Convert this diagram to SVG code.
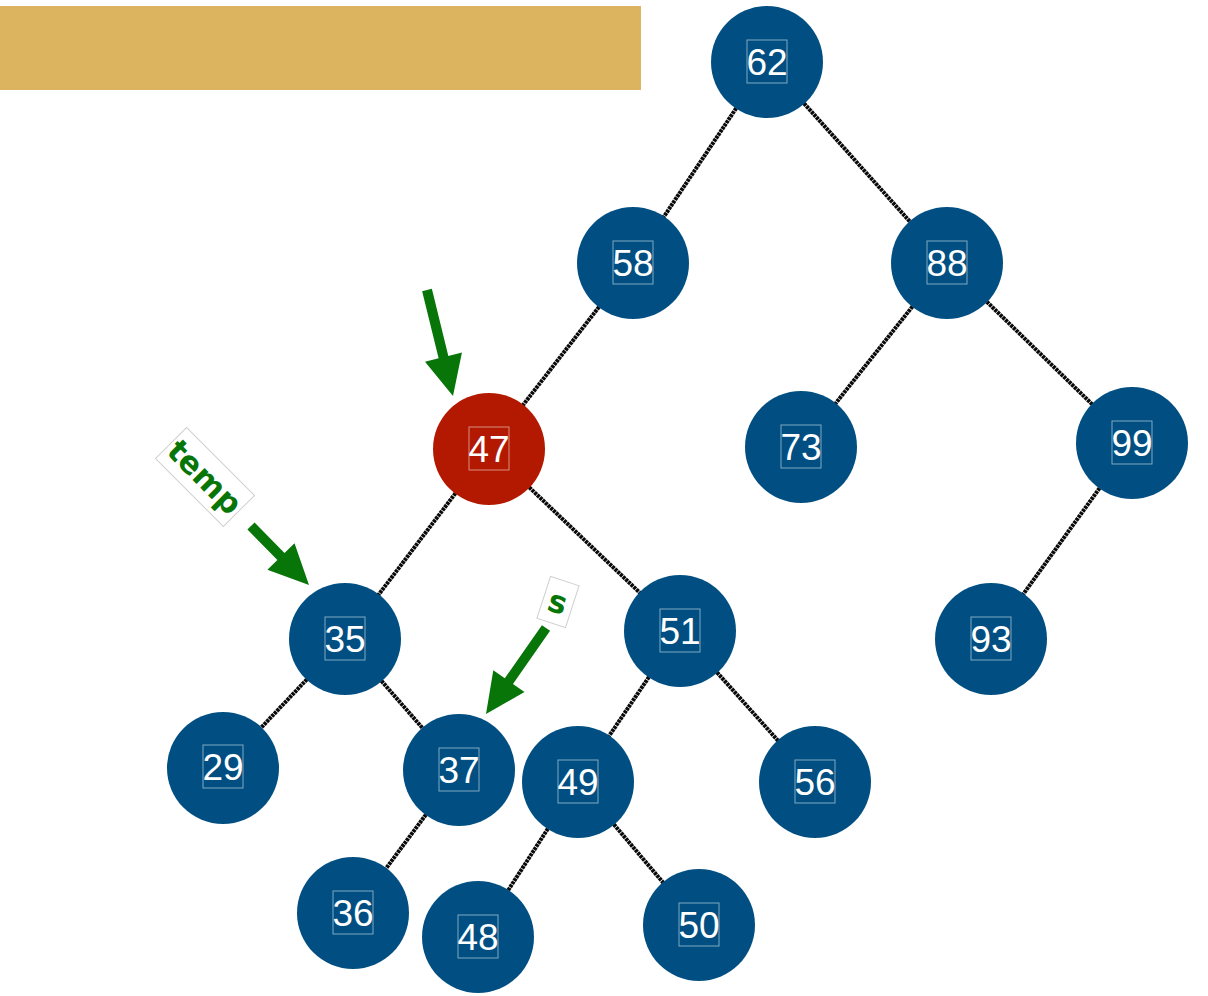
<svg xmlns="http://www.w3.org/2000/svg" width="1208" height="996" viewBox="0 0 1208 996">
<style>
.edge{stroke:#0a0a0a;stroke-width:4;fill:none;stroke-dasharray:3 0.7}
.node circle{fill:#014f82}
.node.hl circle{fill:#b31900}
.node rect{fill:none;stroke:rgba(255,255,255,0.5);stroke-width:1}
.node text{font-family:"Liberation Sans",Arial,sans-serif;font-size:37px;fill:#fff;text-anchor:middle}
.ptr{fill:#077507}
.lbl rect{fill:#fff;stroke:#cfcfcf;stroke-width:1}
.lbl text{font-family:"DejaVu Sans","Liberation Sans",sans-serif;font-weight:bold;font-size:31px;fill:#077507;text-anchor:middle}
</style>
<rect x="0" y="6" width="641" height="84" fill="#dcb35f"/>
<g id="connectors">
<line class="edge" x1="767" y1="62" x2="633" y2="263"/>
<line class="edge" x1="767" y1="62" x2="947" y2="263"/>
<line class="edge" x1="633" y1="263" x2="489" y2="449"/>
<line class="edge" x1="947" y1="263" x2="801" y2="447"/>
<line class="edge" x1="947" y1="263" x2="1132" y2="443"/>
<line class="edge" x1="489" y1="449" x2="345" y2="639"/>
<line class="edge" x1="489" y1="449" x2="680" y2="631"/>
<line class="edge" x1="1132" y1="443" x2="991" y2="639"/>
<line class="edge" x1="345" y1="639" x2="223" y2="768"/>
<line class="edge" x1="345" y1="639" x2="459" y2="770"/>
<line class="edge" x1="680" y1="631" x2="578" y2="782"/>
<line class="edge" x1="680" y1="631" x2="815" y2="782"/>
<line class="edge" x1="459" y1="770" x2="353" y2="913"/>
<line class="edge" x1="578" y1="782" x2="478" y2="937"/>
<line class="edge" x1="578" y1="782" x2="699" y2="925"/>
</g>
<g id="n62" class="node"><circle cx="767" cy="62" r="56"/><rect x="747" y="40" width="40" height="43"/><text x="767" y="75">62</text></g>
<g id="n58" class="node"><circle cx="633" cy="263" r="56"/><rect x="613" y="241" width="40" height="43"/><text x="633" y="276">58</text></g>
<g id="n88" class="node"><circle cx="947" cy="263" r="56"/><rect x="927" y="241" width="40" height="43"/><text x="947" y="276">88</text></g>
<g id="n47" class="node hl"><circle cx="489" cy="449" r="56"/><rect x="469" y="427" width="40" height="43"/><text x="489" y="462">47</text></g>
<g id="n73" class="node"><circle cx="801" cy="447" r="56"/><rect x="781" y="425" width="40" height="43"/><text x="801" y="460">73</text></g>
<g id="n99" class="node"><circle cx="1132" cy="443" r="56"/><rect x="1112" y="421" width="40" height="43"/><text x="1132" y="456">99</text></g>
<g id="n35" class="node"><circle cx="345" cy="639" r="56"/><rect x="325" y="617" width="40" height="43"/><text x="345" y="652">35</text></g>
<g id="n51" class="node"><circle cx="680" cy="631" r="56"/><rect x="660" y="609" width="40" height="43"/><text x="680" y="644">51</text></g>
<g id="n93" class="node"><circle cx="991" cy="639" r="56"/><rect x="971" y="617" width="40" height="43"/><text x="991" y="652">93</text></g>
<g id="n29" class="node"><circle cx="223" cy="768" r="56"/><rect x="203" y="745" width="40" height="43"/><text x="223" y="780">29</text></g>
<g id="n37" class="node"><circle cx="459" cy="770" r="56"/><rect x="439" y="748" width="40" height="43"/><text x="459" y="783">37</text></g>
<g id="n49" class="node"><circle cx="578" cy="782" r="56"/><rect x="558" y="760" width="40" height="43"/><text x="578" y="795">49</text></g>
<g id="n56" class="node"><circle cx="815" cy="782" r="56"/><rect x="795" y="760" width="40" height="43"/><text x="815" y="795">56</text></g>
<g id="n36" class="node"><circle cx="353" cy="913" r="56"/><rect x="333" y="891" width="40" height="43"/><text x="353" y="926">36</text></g>
<g id="n48" class="node"><circle cx="478" cy="937" r="56"/><rect x="458" y="915" width="40" height="43"/><text x="478" y="950">48</text></g>
<g id="n50" class="node"><circle cx="699" cy="925" r="56"/><rect x="679" y="903" width="40" height="43"/><text x="699" y="938">50</text></g>
<g id="pointers">
<polygon class="ptr" points="422.14,291.19 438.61,358.33 425.01,361.67 453,396 461.93,352.61 448.33,355.95 431.86,288.81"/>
<polygon class="ptr" points="247.43,529.51 277.39,559.99 267.41,569.8 309,585 294.51,543.16 284.53,552.97 254.57,522.49"/>
<polygon class="ptr" points="541.9,625.14 504.78,678.34 493.3,670.33 486,714 524.46,692.07 512.98,684.06 550.1,630.86"/>
</g>
<g id="label-temp" class="lbl" transform="translate(205,477) rotate(45)"><rect x="-48" y="-22" width="96" height="44"/><text x="0" y="11">temp</text></g>
<g id="label-s" class="lbl" transform="translate(558,602) rotate(18)"><rect x="-15" y="-22" width="30" height="44"/><text x="0" y="11">s</text></g>
</svg>
